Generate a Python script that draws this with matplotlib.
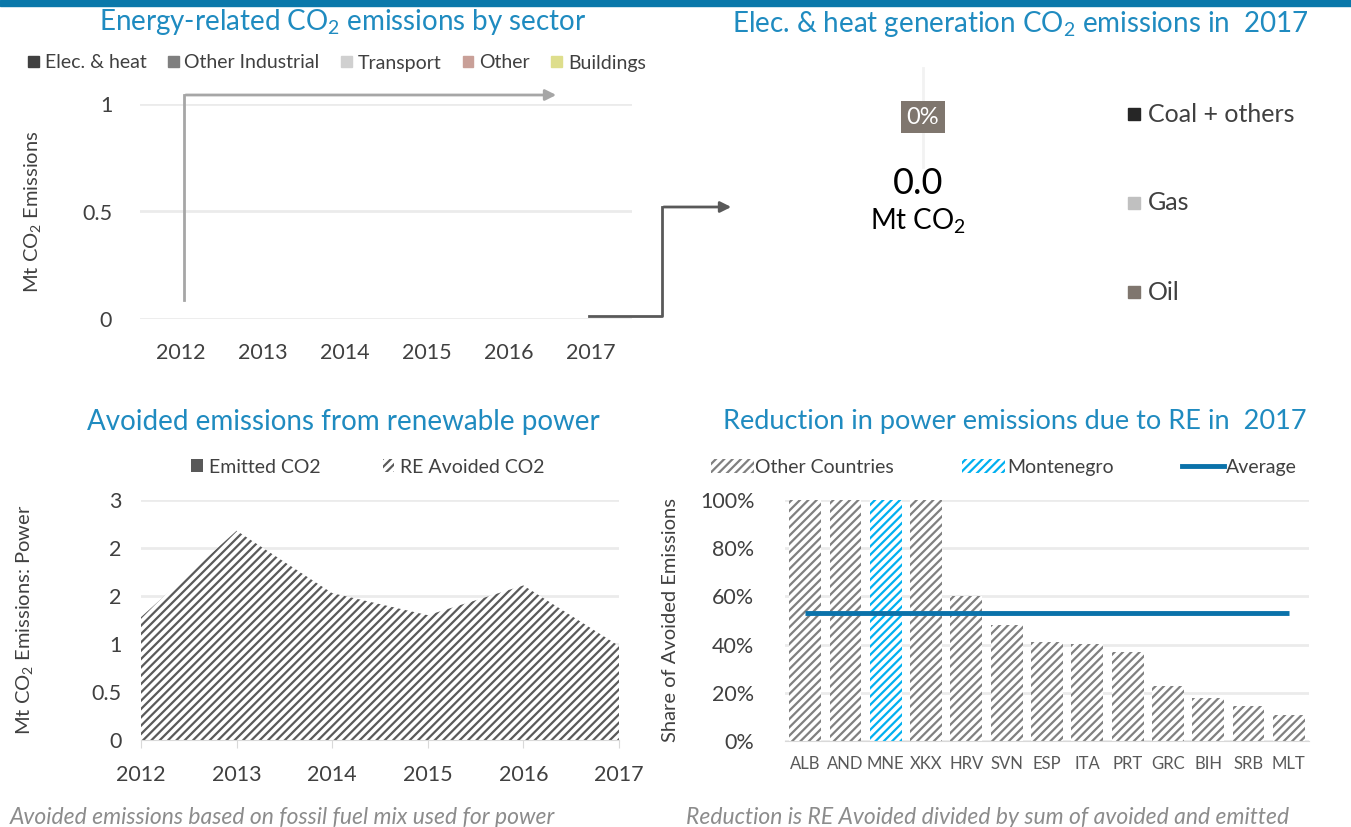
import matplotlib
matplotlib.use("Agg")
import matplotlib.pyplot as plt
from matplotlib.patches import Patch, Rectangle, FancyArrowPatch
from matplotlib.lines import Line2D

plt.rcParams["font.family"] = ["Lato", "DejaVu Sans"]
plt.rcParams["mathtext.default"] = "regular"
plt.rcParams["hatch.linewidth"] = 1.6

# ---- data ----
years = [2012, 2013, 2014, 2015, 2016, 2017]
sector_names = ["Elec. & heat", "Other Industrial", "Transport", "Other", "Buildings"]
elec_heat = [0, 0, 0, 0, 0, 0]
other_industrial = [0, 0, 0, 0, 0, 0]
transport = [0, 0, 0, 0, 0, 0]
other = [0, 0, 0, 0, 0, 0]
buildings = [0, 0, 0, 0, 0, 0]

fuel_names = ["Coal + others", "Gas", "Oil"]
fuel_emissions_2017 = [0.0, 0.0, 0.0]

emitted_co2 = [0, 0, 0, 0, 0, 0]
re_avoided_co2 = [1.28, 2.18, 1.53, 1.30, 1.61, 0.98]
power_ticks = [0, 0.5, 1, 1.5, 2, 2.5]
power_tick_labels = ["0", "0.5", "1", "2", "2", "3"]

countries = ["ALB", "AND", "MNE", "XKX", "HRV", "SVN", "ESP", "ITA", "PRT",
             "GRC", "BIH", "SRB", "MLT"]
reduction_share = [1.00, 1.00, 1.00, 1.00, 0.60, 0.483, 0.411, 0.404, 0.37,
                   0.227, 0.179, 0.144, 0.107]
highlight = "MNE"

# ---- style ----
TITLE_C = "#1f8bc0"
TEXT_C = "#404040"
GRID_C = "#ebebeb"
sector_colors = ["#404040", "#7f7f7f", "#d0d0d0", "#c9a098", "#dede8c"]
fuel_colors = ["#262626", "#c0c0c0", "#7f766e"]
TITLE_FS = 20

W, H = 1351, 827
fig = plt.figure(figsize=(W / 100, H / 100), dpi=100)


def fx(px):
    return px / W


def fy(py):
    return 1 - py / H


def box(l, t, r, b):
    return [fx(l), fy(b), fx(r) - fx(l), fy(t) - fy(b)]


# top band
fig.patches.append(Rectangle((0, fy(6)), 1, 6 / H, transform=fig.transFigure,
                             color="#0a78aa", zorder=0))

# ---------- panel 1: sectors ----------
ax1 = fig.add_axes(box(140, 104, 632, 319))
x1 = list(range(len(years)))
bottom = [0] * len(years)
for name, vals, c in zip(sector_names,
                         [elec_heat, other_industrial, transport, other, buildings],
                         sector_colors):
    ax1.bar(x1, vals, bottom=bottom, width=0.6, color=c, label=name)
    bottom = [b + v for b, v in zip(bottom, vals)]
ax1.set_xlim(-0.5, len(years) - 0.5)
ax1.set_ylim(0, 1)
ax1.set_yticks([0, 0.5, 1])
ax1.set_yticklabels(["0", "0.5", "1"])
ax1.set_xticks(x1)
ax1.set_xticklabels([str(y) for y in years])
ax1.tick_params(axis="x", length=0, labelsize=15.5, colors=TEXT_C, pad=17)
ax1.tick_params(axis="y", length=0, labelsize=15.5, colors=TEXT_C, pad=20)
ax1.grid(axis="y", color=GRID_C, lw=2)
ax1.set_axisbelow(True)
for s in ax1.spines.values():
    s.set_visible(False)
ax1.set_ylabel("Mt CO$_2$ Emissions", fontsize=14.5, color=TEXT_C)
ax1.yaxis.set_label_coords((43 - 140) / 492, 0.5)
fig.text(fx(343), fy(22), "Energy-related CO$_2$ emissions by sector", fontsize=TITLE_FS,
         color=TITLE_C, ha="center", va="center")
handles1 = [Patch(color=c, label=n) for n, c in zip(sector_names, sector_colors)]
fig.legend(handles=handles1, loc="center", bbox_to_anchor=(fx(337), fy(63)), ncol=5,
           frameon=False, fontsize=14, handlelength=0.55, handleheight=0.55,
           handletextpad=0.3, columnspacing=1.1, labelcolor=TEXT_C)

# arrows
fig.add_artist(Line2D([fx(184), fx(184)], [fy(300), fy(95)], color="#a6a6a6", lw=2))
fig.add_artist(FancyArrowPatch((fx(183), fy(95)), (fx(559), fy(95)),
                               transform=fig.transFigure, arrowstyle="-|>",
                               mutation_scale=16, color="#a6a6a6", lw=2))
fig.add_artist(Line2D([fx(589), fx(662), fx(662)], [fy(316), fy(316), fy(207)],
                      color="#595959", lw=2))
fig.add_artist(FancyArrowPatch((fx(661), fy(207)), (fx(734), fy(207)),
                               transform=fig.transFigure, arrowstyle="-|>",
                               mutation_scale=16, color="#595959", lw=2))

# ---------- panel 2: elec & heat donut ----------
fig.text(fx(1020), fy(24), "Elec. & heat generation CO$_2$ emissions in  2017",
         fontsize=TITLE_FS, color=TITLE_C, ha="center", va="center")
total_2017 = sum(fuel_emissions_2017)
oil_share = fuel_emissions_2017[2] / total_2017 if total_2017 else 0.0
fig.add_artist(Line2D([fx(923), fx(923)], [fy(68), fy(167)], color="#f2f2f2", lw=2))
fig.text(fx(923), fy(117), f"{oil_share:.0%}", fontsize=17, color="white",
         ha="center", va="center",
         bbox=dict(boxstyle="square,pad=0.25", fc=fuel_colors[2], ec="none"))
fig.text(fx(918), fy(183), f"{total_2017:.1f}", fontsize=26, color="black",
         ha="center", va="center")
fig.text(fx(918), fy(221), "Mt CO$_2$", fontsize=20, color="black",
         ha="center", va="center")
for i, (n, c) in enumerate(zip(fuel_names, fuel_colors)):
    yy = 114 + 89 * i
    fig.patches.append(Rectangle((fx(1128), fy(yy + 6)), fx(12), 12 / H,
                                 transform=fig.transFigure, color=c))
    fig.text(fx(1148), fy(yy), n, fontsize=18, color=TEXT_C, ha="left", va="center")

# ---------- panel 3: avoided emissions ----------
ax3 = fig.add_axes(box(141, 500, 619, 740))
polys = ax3.stackplot(years, emitted_co2, re_avoided_co2,
                      colors=["#595959", "white"], labels=["Emitted CO2", "RE Avoided CO2"],
                      linewidth=0)
polys[1].set_hatch("////")
polys[1].set_edgecolor("#5a5a5a")
ax3.set_xlim(years[0], years[-1])
ax3.set_ylim(0, 2.5)
ax3.set_yticks(power_ticks)
ax3.set_yticklabels(power_tick_labels)
ax3.set_xticks(years)
ax3.tick_params(axis="y", length=0, labelsize=15.5, colors=TEXT_C, pad=14)
ax3.tick_params(axis="x", length=6, color="#d9d9d9", labelsize=15.5, labelcolor=TEXT_C,
                pad=12)
ax3.grid(axis="y", color=GRID_C, lw=2)
ax3.set_axisbelow(True)
for k, s in ax3.spines.items():
    s.set_visible(k == "bottom")
ax3.spines["bottom"].set_color("#d9d9d9")
ax3.set_ylabel("Mt CO$_2$ Emissions: Power", fontsize=14.5, color=TEXT_C)
ax3.yaxis.set_label_coords((35 - 141) / 478, 0.5)
fig.text(fx(343), fy(422), "Avoided emissions from renewable power", fontsize=TITLE_FS,
         color=TITLE_C, ha="center", va="center")
handles3 = [Patch(fc="#595959", label="Emitted CO2"),
            Patch(fc="white", ec="#5a5a5a", lw=0, hatch="////", label="RE Avoided CO2")]
fig.legend(handles=handles3, loc="center", bbox_to_anchor=(fx(368), fy(467)), ncol=2,
           frameon=False, fontsize=14, handlelength=0.6, handleheight=0.6,
           handletextpad=0.3, columnspacing=3.2, labelcolor=TEXT_C)
fig.text(fx(10), fy(817), "Avoided emissions based on fossil fuel mix used for power",
         fontsize=16.5, style="italic", color="#8c8c8c", ha="left", va="center")

# ---------- panel 4: reduction ----------
ax4 = fig.add_axes(box(785, 500, 1309, 741))
x4 = list(range(len(countries)))
for xi, c, v in zip(x4, countries, reduction_share):
    col = "#00b0f0" if c == highlight else "#808080"
    ax4.bar(xi, v, width=0.79, color="white", edgecolor=col, hatch="////", lw=0)
avg = sum(reduction_share) / len(reduction_share)
ax4.plot([x4[0], x4[-1]], [avg, avg], color="#0a72aa", lw=3.5, solid_capstyle="butt")
ax4.set_xlim(-0.5, len(countries) - 0.5)
ax4.set_ylim(0, 1)
ax4.set_yticks([0, 0.2, 0.4, 0.6, 0.8, 1.0])
ax4.set_yticklabels([f"{int(round(t * 100))}%" for t in [0, 0.2, 0.4, 0.6, 0.8, 1.0]])
ax4.set_xticks(x4)
ax4.set_xticklabels(countries)
ax4.tick_params(axis="y", length=0, labelsize=15.5, colors=TEXT_C, pad=22)
ax4.tick_params(axis="x", length=0, labelsize=12, labelcolor="#595959", pad=11)
ax4.grid(axis="y", color=GRID_C, lw=2)
ax4.set_axisbelow(True)
for k, s in ax4.spines.items():
    s.set_visible(k == "bottom")
ax4.spines["bottom"].set_color("#d9d9d9")
ax4.set_ylabel("Share of Avoided Emissions", fontsize=14.5, color=TEXT_C)
ax4.yaxis.set_label_coords((679 - 785) / 524, 0.5)
fig.text(fx(1015), fy(422), "Reduction in power emissions due to RE in  2017",
         fontsize=19.5, color=TITLE_C, ha="center", va="center")
handles4 = [Patch(fc="white", ec="#808080", lw=0, hatch="////", label="Other Countries"),
            Patch(fc="white", ec="#00b0f0", lw=0, hatch="////", label="Montenegro"),
            Line2D([], [], color="#0a72aa", lw=3.5, label="Average")]
fig.legend(handles=handles4, loc="center", bbox_to_anchor=(fx(1004), fy(467)), ncol=3,
           frameon=False, fontsize=14, handlelength=2.2, handleheight=0.7,
           handletextpad=0.1, columnspacing=3.5, labelcolor=TEXT_C)
fig.text(fx(686), fy(817), "Reduction is RE Avoided divided by sum of avoided and emitted",
         fontsize=16.5, style="italic", color="#8c8c8c", ha="left", va="center")

fig.savefig("out.png", dpi=100)
